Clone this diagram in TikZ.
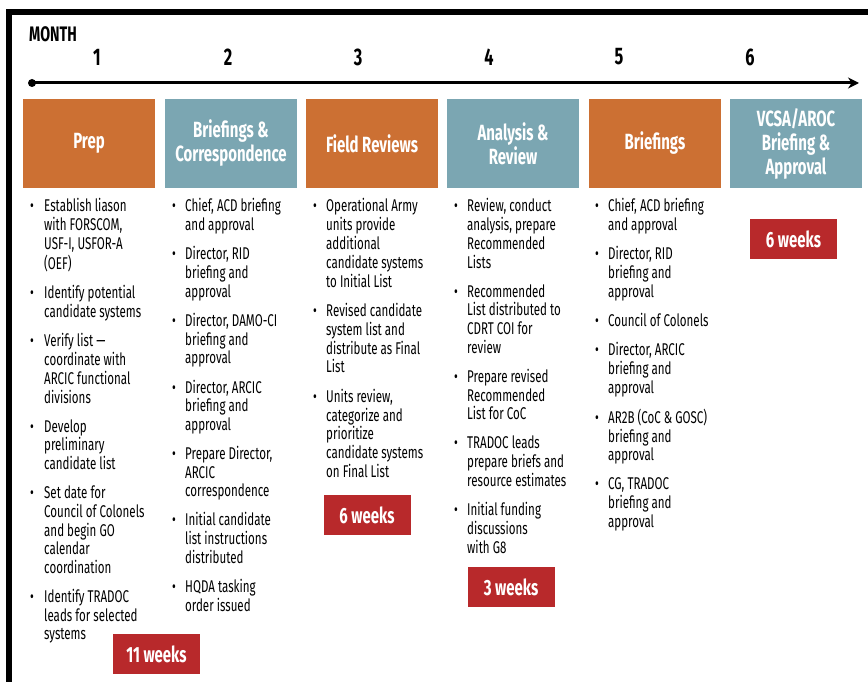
\documentclass[tikz,border=0pt]{standalone}
\usepackage{fontspec}
\setmainfont{Fira Sans}[FakeStretch=0.68]
\usetikzlibrary{arrows.meta}
\definecolor{prepor}{RGB}{204,112,51}
\definecolor{briefbl}{RGB}{123,166,178}
\definecolor{weekred}{RGB}{184,41,43}
\tikzset{
  hdr/.style={minimum width=132pt, minimum height=89pt, inner sep=0pt, align=center,
    text=white, font=\fontsize{22}{24}\selectfont\bfseries},
  wks/.style={fill=weekred, minimum width=87pt, minimum height=40pt, inner sep=0pt,
    text=white, font=\fontsize{22}{24}\selectfont\bfseries},
  lst/.style={anchor=north west, inner sep=0pt, font=\fontsize{17}{18.5}\selectfont},
  mon/.style={font=\fontsize{24}{26}\selectfont\bfseries}
}
\newcommand{\gap}{\\[10.5pt]}
\newcommand{\bl}{\textbullet}

\begin{document}
\begin{tikzpicture}[x=1pt,y=-1pt]
  %%%%% START %%%%%
  \useasboundingbox (0,0) rectangle (868,682);
  \draw[line width=6pt] (9,685) -- (9,12) -- (871,12);

  % months and time line
  \node[mon, font=\fontsize{21}{22}\selectfont\bfseries] (month) at (53,34) {MONTH};
  \foreach \m/\x in {1/97,2/228,3/358,4/489,5/619,6/750}
    \node[mon] (m\m) at (\x,57) {\m};
  \node[circle, fill=black, inner sep=0pt, minimum size=8pt] (tstart) at (32,83) {};
  \coordinate (tend) at (859,83);
  \draw[line width=3pt, -{Stealth[length=11pt,width=11pt]}] (tstart.center) -- (tend);

  % phase boxes
  \node[hdr, fill=prepor]  (prep)  at (89,143.5)  {Prep};
  \node[hdr, fill=briefbl] (corr)  at (231,143.5) {Briefings \&\\Correspondence};
  \node[hdr, fill=prepor]  (field) at (372,143.5) {Field Reviews};
  \node[hdr, fill=briefbl] (anal)  at (513,143.5) {Analysis \&\\Review};
  \node[hdr, fill=prepor]  (brief) at (655,143.5) {Briefings};
  \node[hdr, fill=briefbl] (vcsa)  at (796,143.5) {VCSA/AROC\\Briefing \&\\Approval};

  % task lists
  \node[lst] (list1) at (30,198.5) {\begin{tabular}{@{}p{14pt}@{}l@{}}
    \bl & Establish liason\\ & with FORSCOM,\\ & USF-I, USFOR-A\\ & (OEF)\gap
    \bl & Identify potential\\ & candidate systems\gap
    \bl & Verify list ---\\ & coordinate with\\ & ARCIC functional\\ & divisions\gap
    \bl & Develop\\ & preliminary\\ & candidate list\gap
    \bl & Set date for\\ & Council of Colonels\\ & and begin GO\\ & calendar\\ & coordination\gap
    \bl & Identify TRADOC\\ & leads for selected\\ & systems
  \end{tabular}};
  \node[lst] (list2) at (172,198.5) {\begin{tabular}{@{}p{13pt}@{}l@{}}
    \bl & Chief, ACD briefing\\ & and approval\gap
    \bl & Director, RID\\ & briefing and\\ & approval\gap
    \bl & Director, DAMO-CI\\ & briefing and\\ & approval\gap
    \bl & Director, ARCIC\\ & briefing and\\ & approval\gap
    \bl & Prepare Director,\\ & ARCIC\\ & correspondence\gap
    \bl & Initial candidate\\ & list instructions\\ & distributed\gap
    \bl & HQDA tasking\\ & order issued
  \end{tabular}};
  \node[lst] (list3) at (313,198.5) {\begin{tabular}{@{}p{13pt}@{}l@{}}
    \bl & Operational Army\\ & units provide\\ & additional\\ & candidate systems\\ & to Initial List\gap
    \bl & Revised candidate\\ & system list and\\ & distribute as Final\\ & List\gap
    \bl & Units review,\\ & categorize and\\ & prioritize\\ & candidate systems\\ & on Final List
  \end{tabular}};
  \node[lst] (list4) at (454,198.5) {\begin{tabular}{@{}p{13pt}@{}l@{}}
    \bl & Review, conduct\\ & analysis, prepare\\ & Recommended\\ & Lists\gap
    \bl & Recommended\\ & List distributed to\\ & CDRT COI for\\ & review\gap
    \bl & Prepare revised\\ & Recommended\\ & List for CoC\gap
    \bl & TRADOC leads\\ & prepare briefs and\\ & resource estimates\gap
    \bl & Initial funding\\ & discussions\\ & with G8
  \end{tabular}};
  \node[lst] (list5) at (595,198.5) {\begin{tabular}{@{}p{13pt}@{}l@{}}
    \bl & Chief, ACD briefing\\ & and approval\gap
    \bl & Director, RID\\ & briefing and\\ & approval\gap
    \bl & Council of Colonels\gap
    \bl & Director, ARCIC\\ & briefing and\\ & approval\gap
    \bl & AR2B (CoC \& GOSC)\\ & briefing and\\ & approval\gap
    \bl & CG, TRADOC\\ & briefing and\\ & approval
  \end{tabular}};

  % durations
  \node[wks] (w1) at (156.5,654) {11 weeks};
  \node[wks] (w3) at (367,515)   {6 weeks};
  \node[wks] (w4) at (511,587)   {3 weeks};
  \node[wks] (w6) at (793.5,239) {6 weeks};
  %%%%% END %%%%%
\end{tikzpicture}
\end{document}
